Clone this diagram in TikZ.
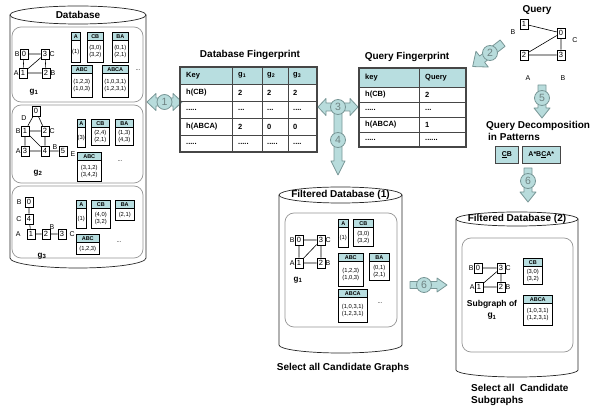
\documentclass[tikz,border=0pt]{standalone}
\usepackage{fontspec}
\setmainfont{Liberation Sans}
\usetikzlibrary{positioning}
\definecolor{hdrteal}{RGB}{184,222,224}
\definecolor{arrteal}{RGB}{184,220,220}
\definecolor{arrline}{RGB}{120,150,150}
\definecolor{numgray}{RGB}{110,130,130}
\definecolor{tabline}{RGB}{70,70,70}
\definecolor{boxgray}{RGB}{150,150,150}
\tikzstyle{every node} = [inner sep=0]
\tikzstyle{title} = [font=\fontsize{10}{12}\selectfont\bfseries]
\tikzstyle{gname} = [font=\fontsize{8}{9}\selectfont\bfseries]
\tikzstyle{cyl} = [draw=black!85, fill=white, line width=0.7pt]
\tikzstyle{inbox} = [draw=boxgray, rounded corners=9pt, line width=0.7pt]
\tikzstyle{vtx} = [draw, fill=white, minimum width=8pt, minimum height=10pt, line width=0.6pt, font=\fontsize{7.5}{7.5}\selectfont, label distance=1.5pt]
\tikzstyle{lbl} = [font=\fontsize{7}{7}\selectfont]
\tikzstyle{gline} = [line width=0.6pt]
\tikzstyle{phead} = [draw, fill=hdrteal, minimum height=8pt, line width=0.5pt, anchor=north west, font=\fontsize{5.5}{6}\selectfont\bfseries]
\tikzstyle{pbody} = [draw, fill=white, line width=0.5pt, align=center, font=\fontsize{5.8}{7}\selectfont]
\tikzstyle{moredots} = [font=\fontsize{6}{6}\selectfont]
\tikzstyle{blk} = [fill=arrteal, draw=arrline, line width=0.8pt, line join=round]
\tikzstyle{numc} = [circle, fill=arrteal, draw=arrline, line width=0.8pt, minimum size=15pt, text=numgray, font=\fontsize{10.5}{10.5}\selectfont]
\tikzstyle{cell} = [anchor=west, font=\fontsize{7.5}{8}\selectfont\bfseries]
\tikzstyle{tabgrid} = [draw=tabline, line width=0.5pt]
\tikzstyle{tabframe} = [draw=tabline, line width=1.2pt]
% pattern table: name, top left, width, body height, header, body
\newcommand{\pattab}[6]{%
  \node[phead, minimum width=#3pt] (#1h) at #2 {#5};
  \node[pbody, minimum width=#3pt, minimum height=#4pt, below=0pt of #1h] (#1b) {#6};}

\begin{document}
\begin{tikzpicture}[x=1pt, y=-1pt]
\useasboundingbox (0,0) rectangle (600,411);

% Database
\draw[cyl] (10,15) -- (10,258) arc[start angle=180, end angle=0, x radius=68, y radius=10] -- (146,15);
\draw[cyl] (78,15) ellipse [x radius=68, y radius=9];
\node[title] (db) at (78,15) {Database};
\draw[inbox] (12,27) rectangle (143,102);
\draw[inbox] (12,105) rectangle (143,183);
\draw[inbox] (12,186) rectangle (143,258);

% graph g1
\node[vtx, label={[lbl]left:B}] (a0) at (24,54) {0};
\node[vtx, label={[lbl]right:C}] (a3) at (45,54) {3};
\node[vtx, label={[lbl]left:A}] (a1) at (23,73) {1};
\node[vtx, label={[lbl]right:B}] (a2) at (46,73) {2};
\draw[gline] (a0) -- (a3) (a0) -- (a1) (a1) -- (a2) (a3) -- (a2) (a1) -- (a3);
\node[gname] (ga) at (34,92) {g\textsubscript{1}};
\pattab{aA}{(71,32)}{9}{22}{A}{(1)}
\pattab{aCB}{(87,32)}{16}{22}{CB}{(3,0)\\(3,2)}
\pattab{aBA}{(112,32)}{16}{22}{BA}{(0,1)\\(2,1)}
\pattab{aABC}{(71,65)}{21}{24}{ABC}{(1,2,3)\\(1,0,3)}
\pattab{aABCA}{(102,65)}{26}{24}{ABCA}{(1,0,3,1)\\(1,2,3,1)}
\node[moredots] (adots) at (138,70) {...};

% graph g2
\node[vtx] (b0) at (36,111) {0};
\node[lbl] (bD) at (24,118) {D};
\node[vtx, label={[lbl]left:B}] (b1) at (25,131) {1};
\node[vtx, label={[lbl]right:C}] (b2) at (45,131) {2};
\node[vtx, label={[lbl]left:A}] (b3) at (25,151) {3};
\node[vtx] (b4) at (45,151) {4};
\node[vtx] (b5) at (63,151) {5};
\node[lbl] (bB) at (55,147) {B};
\node[lbl] (bE) at (73,154) {E};
\draw[gline] (b0) -- (b1) (b0) -- (b2) (b1) -- (b2) (b1) -- (b3) (b1) -- (b4) (b2) -- (b4) (b3) -- (b4) (b4) -- (b5);
\node[gname] (gb) at (38,173) {g\textsubscript{2}};
\pattab{bA}{(77,119)}{8}{20}{A}{(3)}
\pattab{bCB}{(91,119)}{18}{18}{CB}{(2,4)\\(2,1)}
\pattab{bBA}{(115,119)}{18}{18}{BA}{(1,3)\\(4,3)}
\pattab{bABC}{(77,152)}{24}{21}{ABC}{(3,1,2)\\(3,4,2)}
\node[moredots] (bdots) at (120,161) {...};

% graph g3
\node[vtx, label={[lbl, label distance=3pt]left:B}] (c0) at (29,202) {0};
\node[vtx, label={[lbl, label distance=3pt]left:C}] (c4) at (29,219) {4};
\node[vtx, label={[lbl, label distance=6pt]left:A}] (c1) at (31,234) {1};
\node[vtx] (c2) at (46,234) {2};
\node[vtx, label={[lbl, label distance=3pt]right:C}] (c3) at (62,234) {3};
\node[lbl] (cB) at (52,227) {B};
\draw[gline] (c0) -- (c4) (c4) -- (c1) (c1) -- (c2) (c2) -- (c3);
\node[gname] (gc) at (42,256) {g\textsubscript{3}};
\pattab{cA}{(76,200)}{10}{20}{A}{(1)}
\pattab{cCB}{(91,200)}{19}{20}{CB}{(4,0)\\(3,2)}
\pattab{cBA}{(115,200)}{19}{12}{BA}{(2,1)}
\pattab{cABC}{(76,234)}{23}{12}{ABC}{(1,2,3)}
\node[moredots] (cdots) at (119,242) {...};

% arrow 1
\draw[blk] (147,102) -- (156,93.5) -- (156,98) -- (173,98) -- (173,93.5) -- (182,102) -- (173,110.5) -- (173,106) -- (156,106) -- (156,110.5) -- cycle;
\node[numc] (n1) at (164.5,102) {1};

% Database Fingerprint
\node[title] (dbfp) at (250,55) {Database Fingerprint};
\fill[hdrteal] (180,67) rectangle (317,84);
\draw[tabgrid] (180,84) -- (317,84) (180,101) -- (317,101) (180,118) -- (317,118) (180,135) -- (317,135)
  (232,67) -- (232,152) (262,67) -- (262,152) (288,67) -- (288,152);
\draw[tabframe] (180,67) rectangle (317,152);
\node[cell] (d11) at (186,75.5) {Key};
\node[cell] (d12) at (238,75.5) {g\textsubscript{1}};
\node[cell] (d13) at (267,75.5) {g\textsubscript{2}};
\node[cell] (d14) at (293,75.5) {g\textsubscript{3}};
\node[cell] (d21) at (186,92.5) {h(CB)};
\node[cell] (d22) at (238,92.5) {2};
\node[cell] (d23) at (267,92.5) {2};
\node[cell] (d24) at (293,92.5) {2};
\node[cell] (d31) at (186,109.5) {.....};
\node[cell] (d32) at (238,109.5) {...};
\node[cell] (d33) at (267,109.5) {...};
\node[cell] (d34) at (293,109.5) {....};
\node[cell] (d41) at (186,126.5) {h(ABCA)};
\node[cell] (d42) at (238,126.5) {2};
\node[cell] (d43) at (267,126.5) {0};
\node[cell] (d44) at (293,126.5) {0};
\node[cell] (d51) at (186,143.5) {.....};
\node[cell] (d52) at (238,143.5) {.....};
\node[cell] (d53) at (267,143.5) {.....};
\node[cell] (d54) at (293,143.5) {....};

% arrows 3 and 4
\draw[blk] (318,107) -- (326,98.5) -- (326,103) -- (350,103) -- (350,98.5) -- (358,107) -- (350,115.5) -- (350,111)
  -- (342,111) -- (342,161) -- (345,161) -- (338,175) -- (331,161) -- (334,161) -- (334,111) -- (326,111) -- (326,115.5) -- cycle;
\node[numc] (n3) at (338,107) {3};
\node[numc] (n4) at (338,140) {4};

% Query Fingerprint
\node[title] (qfp) at (407,57) {Query Fingerprint};
\fill[hdrteal] (359,68) rectangle (466,87);
\draw[tabgrid] (359,87) -- (466,87) (359,102) -- (466,102) (359,117) -- (466,117) (359,132) -- (466,132)
  (419,68) -- (419,147);
\draw[tabframe] (359,68) rectangle (466,147);
\node[cell] (q11) at (365,77.5) {key};
\node[cell] (q12) at (425,77.5) {Query};
\node[cell] (q21) at (365,94.5) {h(CB)};
\node[cell] (q22) at (425,94.5) {2};
\node[cell] (q31) at (365,109.5) {.....};
\node[cell] (q32) at (425,109.5) {...};
\node[cell] (q41) at (365,124.5) {h(ABCA)};
\node[cell] (q42) at (425,124.5) {1};
\node[cell] (q51) at (365,139.5) {.....};
\node[cell] (q52) at (425,139.5) {......};

% Query
\node[title] (qry) at (537,10) {Query};
\node[vtx] (q1) at (524,24) {1};
\node[vtx] (q0) at (561,33) {0};
\node[vtx] (q2) at (524,55) {2};
\node[vtx] (q3) at (561,55) {3};
\node[lbl] (qB) at (513,32) {B};
\node[lbl] (qC) at (575,40) {C};
\node[lbl] (qA) at (528,78) {A};
\node[lbl] (qB2) at (563,78) {B};
\draw[gline] (q1) -- (q0) (q0) -- (q3) (q0) -- (q2) (q2) -- (q3);

% arrow 2
\begin{scope}[shift={(490,53)}, rotate=218]
\draw[blk] (-16,-4) -- (10,-4) -- (10,-10) -- (22,0) -- (10,10) -- (10,4) -- (-16,4) -- cycle;
\end{scope}
\node[numc] (n2) at (490,53) {2};

% arrow 5
\draw[blk] (538,85) -- (546,85) -- (546,108) -- (550,108) -- (542,118) -- (534,108) -- (538,108) -- cycle;
\node[numc] (n5) at (542,98) {5};

% Query Decomposition
\node[title, align=left, anchor=west] (qdec) at (486,131) {Query Decomposition\\\hspace{2pt}in Patterns};
\node[draw=tabline, fill=hdrteal, line width=0.6pt, minimum width=23pt, minimum height=17pt, anchor=north west, font=\fontsize{7}{8}\selectfont\bfseries] (pcb) at (495,146) {\underline{C}B};
\node[draw=tabline, fill=hdrteal, line width=0.6pt, minimum width=38pt, minimum height=17pt, anchor=north west, font=\fontsize{7}{8}\selectfont\bfseries] (pabca) at (522,146) {A*B\underline{C}A*};

% arrow 6 down
\draw[blk] (524,168) -- (532,168) -- (532,192) -- (536,192) -- (528,202) -- (520,192) -- (524,192) -- cycle;
\node[numc] (n6a) at (528,181) {6};

% Filtered Database (1)
\draw[cyl] (279,195) -- (279,345) arc[start angle=180, end angle=0, x radius=61.5, y radius=8] -- (402,195);
\draw[cyl] (340.5,195) ellipse [x radius=61.5, y radius=8];
\node[title] (fdb1) at (340.5,195) {Filtered Database (1)};
\draw[inbox] (285,213) rectangle (397,327);
\node[vtx, label={[lbl]left:B}] (e0) at (299,240) {0};
\node[vtx, label={[lbl]right:C}] (e3) at (321,240) {3};
\node[vtx, label={[lbl]left:A}] (e1) at (299,263) {1};
\node[vtx, label={[lbl]right:B}] (e2) at (321,263) {2};
\draw[gline] (e0) -- (e3) (e0) -- (e1) (e1) -- (e2) (e3) -- (e2) (e1) -- (e3);
\node[gname] (ge) at (298,280) {g\textsubscript{1}};
\pattab{eA}{(338,219)}{10}{20}{A}{(1)}
\pattab{eCB}{(353,219)}{20}{19}{CB}{(3,0)\\(3,2)}
\pattab{eABC}{(338,253)}{25}{25}{ABC}{(1,2,3)\\(1,0,3)}
\pattab{eBA}{(369,253)}{20}{19}{BA}{(0,1)\\(2,1)}
\pattab{eABCA}{(338,289)}{29}{25}{ABCA}{(1,0,3,1)\\(1,2,3,1)}
\node[moredots] (edots) at (380,303) {...};
\node[title] (sel1) at (343,368) {Select all Candidate Graphs};

% arrow 6 right
\draw[blk] (410,281.5) -- (437,281.5) -- (437,278) -- (447,285) -- (437,292) -- (437,288.5) -- (410,288.5) -- cycle;
\node[numc] (n6b) at (424,285) {6};

% Filtered Database (2)
\draw[cyl] (456,219) -- (456,370) arc[start angle=180, end angle=0, x radius=61, y radius=7] -- (578,219);
\draw[cyl] (517,219) ellipse [x radius=61, y radius=7];
\node[title] (fdb2) at (517,219) {Filtered Database (2)};
\draw[inbox] (462,238) rectangle (573,352);
\node[vtx, label={[lbl]left:B}] (h0) at (478,268) {0};
\node[vtx, label={[lbl]right:C}] (h3) at (501,268) {3};
\node[vtx, label={[lbl]left:A}] (h1) at (479,287) {1};
\node[vtx, label={[lbl]right:B}] (h2) at (501,287) {2};
\draw[gline] (h0) -- (h3) (h3) -- (h2) (h1) -- (h3) (h1) -- (h2);
\node[gname, align=center, font=\fontsize{8.5}{11}\selectfont\bfseries] (gh) at (492,310) {Subgraph of\\g\textsubscript{1}};
\pattab{hCB}{(523,258)}{19}{18}{CB}{(3,0)\\(3,2)}
\pattab{hABCA}{(523,295)}{29}{22}{ABCA}{(1,0,3,1)\\(1,2,3,1)}
\node[title, align=left, anchor=north west] (sel2) at (471,384) {Select all\ \ Candidate\\Subgraphs};
\end{tikzpicture}
\end{document}
